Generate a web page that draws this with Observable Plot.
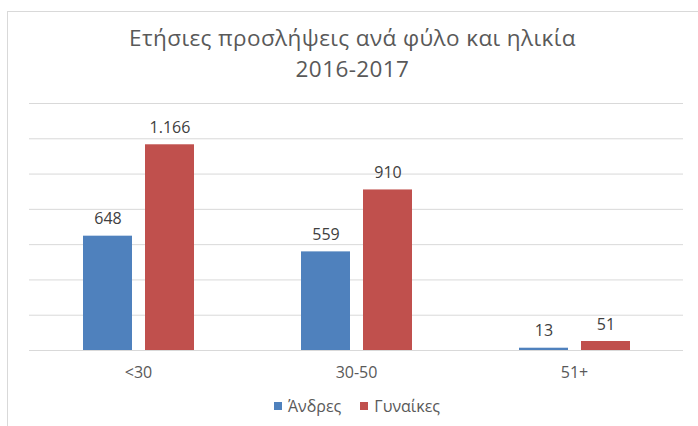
<!DOCTYPE html>
<html>
<head>
<meta charset="utf-8">
<script src="https://cdn.jsdelivr.net/npm/d3@7"></script>
<script src="https://cdn.jsdelivr.net/npm/@observablehq/plot@0.6"></script>
<style>
  html, body { margin: 0; padding: 0; background: #fff; }
  #wrap { position: relative; width: 698px; height: 426px; overflow: hidden; font-family: "Open Sans", sans-serif; }
  #frame { position: absolute; left: 7px; top: 11px; right: -2px; bottom: -2px; border-left: 1px solid #d9d9d9; border-top: 1px solid #d9d9d9; }
  #title { position: absolute; left: 7px; right: 0; top: 22px; text-align: center; color: #595959; font-size: 22.5px; letter-spacing: 0.4px; line-height: 31px; }
  #chart { position: absolute; left: 0; top: 90px; }
  #legend { position: absolute; left: 0; right: 0; top: 395px; display: flex; justify-content: center; gap: 19px; font-size: 16px; color: #595959; margin-left: 16px; }
  .item { display: flex; align-items: center; gap: 6px; }
  .sw { width: 8px; height: 8px; display: inline-block; }
</style>
</head>
<body>
<div id="wrap">
  <div id="frame"></div>
  <div id="title">Ετήσιες προσλήψεις ανά φύλο και ηλικία<br>2016-2017</div>
  <div id="chart"></div>
  <div id="legend"></div>
</div>
<script>
const categories = ["<30", "30-50", "51+"];
const series = ["Άνδρες", "Γυναίκες"];
const men = [648, 559, 13];
const women = [1166, 910, 51];
const yTicks = [0, 200, 400, 600, 800, 1000, 1200, 1400];
const colors = ["#4f81bd", "#c0504d"];

const data = [];
categories.forEach((c, i) => {
  data.push({cat: c, sex: series[0], value: men[i]});
  data.push({cat: c, sex: series[1], value: women[i]});
});

const fmt = d3.formatLocale({decimal: ",", thousands: ".", grouping: [3], currency: ["", "€"]}).format(",d");

const chart = Plot.plot({
  width: 698,
  height: 295,
  marginLeft: 28,
  marginRight: 15,
  marginTop: 13,
  marginBottom: 35,
  style: {fontFamily: "Open Sans, sans-serif", fontSize: "16px", color: "#595959", background: "transparent"},
  fx: {domain: categories, padding: 0, axis: "bottom", label: null, tickSize: 0, tickPadding: 16},
  x: {domain: series, paddingInner: 0.21, paddingOuter: 0.863, axis: null},
  y: {domain: [0, 1400], axis: null},
  color: {domain: series, range: colors},
  marks: [
    Plot.ruleY(yTicks, {stroke: "#d9d9d9", strokeWidth: 1}),
    Plot.barY(data, {fx: "cat", x: "sex", y: "value", fill: "sex"}),
    Plot.text(data, {fx: "cat", x: "sex", y: "value", text: d => fmt(d.value), dy: -17, fill: "#404040", fontSize: 16})
  ]
});
document.getElementById("chart").appendChild(chart);

const legend = document.getElementById("legend");
series.forEach((s, i) => {
  const it = document.createElement("div");
  it.className = "item";
  const sw = document.createElement("span");
  sw.className = "sw";
  sw.style.background = colors[i];
  const t = document.createElement("span");
  t.textContent = s;
  it.appendChild(sw);
  it.appendChild(t);
  legend.appendChild(it);
});
</script>
</body>
</html>
